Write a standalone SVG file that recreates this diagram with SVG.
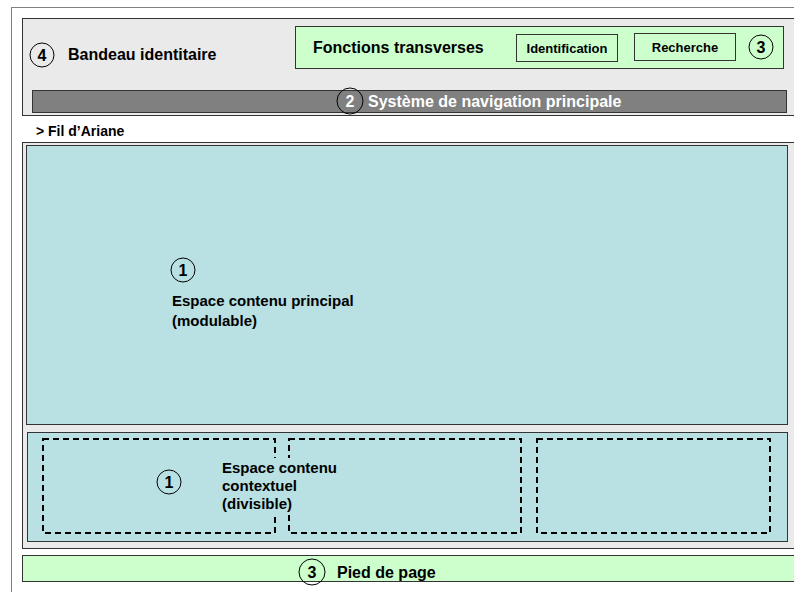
<svg xmlns="http://www.w3.org/2000/svg" width="794" height="592" viewBox="0 0 794 592">
  <style>
    .frame { fill: #ffffff; stroke: #808080; stroke-width: 1; }
    .band { fill: #eaeaea; stroke: #333333; stroke-width: 1; }
    .green { fill: #ccffcc; stroke: #333333; stroke-width: 1; }
    .teal { fill: #b9e0e3; stroke: #333333; stroke-width: 1; }
    .nav { fill: #808080; stroke: #333333; stroke-width: 1; }
    .dash { fill: none; stroke: #000000; stroke-width: 2; stroke-dasharray: 6 4; }
    .num { fill: none; stroke: #000000; stroke-width: 1; }
    text { font-family: "Liberation Sans", Arial, sans-serif; font-weight: bold; fill: #000000; }
    .t16 { font-size: 16px; }
    .t15 { font-size: 15px; }
    .t14 { font-size: 14px; }
    .t13 { font-size: 13px; }
    .num-t { font-size: 16px; text-anchor: middle; }
    .white { fill: #ffffff; }
  </style>

  <!-- page frame -->
  <rect class="frame" x="11.5" y="7.5" width="790" height="590"/>

  <!-- header band -->
  <g id="bandeau">
    <rect class="band" x="22.5" y="18.5" width="780" height="97"/>
    <circle class="num" cx="42" cy="55" r="12"/>
    <text class="num-t" x="42" y="61">4</text>
    <text class="t16" x="68" y="60">Bandeau identitaire</text>
  </g>

  <!-- cross-cutting functions -->
  <g id="fonctions">
    <rect class="green" x="295.5" y="26.5" width="488" height="42"/>
    <text class="t16" x="313" y="53">Fonctions transverses</text>
    <rect class="green" x="516.5" y="34.5" width="101" height="27"/>
    <text class="t13" x="567" y="52.5" text-anchor="middle">Identification</text>
    <rect class="green" x="634.5" y="33.5" width="101" height="27"/>
    <text class="t13" x="685" y="52" text-anchor="middle">Recherche</text>
    <circle class="num" cx="761" cy="47" r="12"/>
    <text class="num-t" x="761" y="53">3</text>
  </g>

  <!-- main navigation -->
  <g id="navigation">
    <rect class="nav" x="32.5" y="90.5" width="754" height="22"/>
    <circle class="num" cx="350" cy="101" r="13"/>
    <text class="num-t white" x="350" y="107">2</text>
    <text class="t16 white" x="368" y="107">Système de navigation principale</text>
  </g>

  <!-- breadcrumb -->
  <g id="fil-ariane">
    <text class="t14" x="36" y="136">&gt; Fil d’Ariane</text>
  </g>

  <!-- content container -->
  <rect class="band" x="22.5" y="142.5" width="780" height="406"/>

  <!-- main content area -->
  <g id="contenu-principal">
    <rect class="teal" x="26.5" y="145.5" width="761" height="279"/>
    <circle class="num" cx="183" cy="270" r="12"/>
    <text class="num-t" x="183" y="276">1</text>
    <text class="t15" x="172" y="306">Espace contenu principal</text>
    <text class="t15" x="172" y="326">(modulable)</text>
  </g>

  <!-- contextual content area -->
  <g id="contenu-contextuel">
    <rect class="teal" x="27.5" y="432.5" width="760" height="109"/>
    <rect class="dash" x="43" y="439" width="232" height="94"/>
    <rect class="dash" x="289" y="439" width="232" height="94"/>
    <rect class="dash" x="537" y="439" width="233" height="94"/>
    <!-- label backing hides the dashed sides behind the text -->
    <rect x="262" y="458" width="40" height="56" fill="#b9e0e3"/>
    <circle class="num" cx="169" cy="482" r="12"/>
    <text class="num-t" x="169" y="488">1</text>
    <text class="t15" x="222" y="473">Espace contenu</text>
    <text class="t15" x="222" y="491">contextuel</text>
    <text class="t15" x="222" y="509">(divisible)</text>
  </g>

  <!-- footer -->
  <g id="pied-de-page">
    <rect class="green" x="22.5" y="555.5" width="780" height="26"/>
    <circle class="num" cx="312" cy="572" r="13"/>
    <text class="num-t" x="312" y="578">3</text>
    <text class="t16" x="337" y="578">Pied de page</text>
  </g>

  <g id="connecteurs"/>
</svg>
